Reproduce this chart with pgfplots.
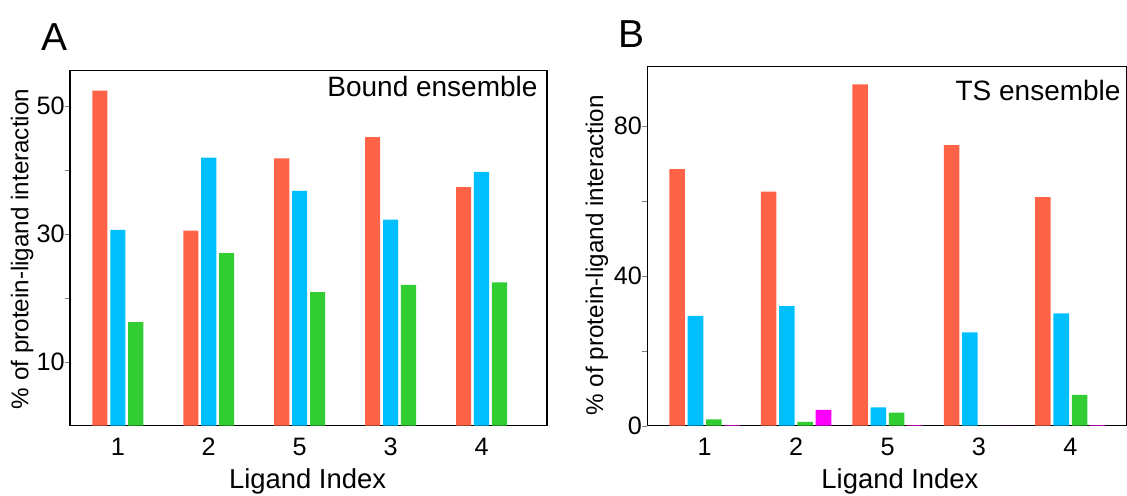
\documentclass[border=0pt]{standalone}
\usepackage{fontspec}
\setmainfont{Liberation Sans}
\usepackage{pgfplots}
\pgfplotsset{compat=1.18}
\definecolor{barred}{HTML}{FF6347}
\definecolor{barblue}{HTML}{00BFFF}
\definecolor{bargreen}{HTML}{32CD32}
\definecolor{barmag}{HTML}{FF00FF}

\pgfplotsset{
  panel/.style={
    scale only axis, clip=false,
    axis line style={line width=0.6pt},
    ymin=0,
    xtick={0,1,2,3,4}, xticklabels={1,2,5,3,4},
    xtick style={draw=none},
    tick align=outside, ytick pos=left,
    major tick length=2.5pt, minor tick length=2.5pt,
    /pgf/number format/assume math mode=true,
    tick label style={font=\fontsize{12.6}{14}\selectfont},
    yticklabel style={anchor=east, inner sep=0pt},
    xticklabel style={anchor=base, inner sep=0pt, yshift=-12.6pt},
    ylabel={\% of protein-ligand interaction},
    xlabel={Ligand Index},
    label style={inner sep=0pt},
    xlabel style={font=\fontsize{13.7}{15}\selectfont, anchor=base},
    ylabel style={font=\fontsize{12.1}{14}\selectfont, anchor=center},
  },
}

\begin{document}
\begin{tikzpicture}
\path[use as bounding box] (-35pt,-34.65pt) rectangle (528.5pt,212.85pt);

% panel A
\begin{axis}[panel,
  width=238.5pt, height=177.5pt,
  xmin=-0.526, xmax=4.72, ymax=55.5,
  ytick={10,30,50}, minor ytick={20,40},
  xlabel style={at={(axis description cs:0.498,-0.1766)}},
  ylabel style={at={(axis description cs:-0.1006,0.498)}},
]
\addplot[ybar, fill=barred, draw=none, bar width=0.166, bar shift=-0.197]
  coordinates {(0,52.4) (1,30.5) (2,41.8) (3,45.1) (4,37.3)};
\addplot[ybar, fill=barblue, draw=none, bar width=0.166, bar shift=0]
  coordinates {(0,30.6) (1,41.9) (2,36.7) (3,32.2) (4,39.7)};
\addplot[ybar, fill=bargreen, draw=none, bar width=0.166, bar shift=0.197]
  coordinates {(0,16.2) (1,27.0) (2,20.9) (3,22.0) (4,22.4)};
\node[anchor=base east, inner sep=0pt, font=\fontsize{14}{16}\selectfont]
  at (rel axis cs:0.981,0.927) {Bound ensemble};
\end{axis}

% panel B
\begin{axis}[panel, at={(288.65pt,0pt)},
  width=239.7pt, height=179.5pt,
  xmin=-0.627, xmax=4.616, ymax=95.8,
  ytick={0,40,80}, minor ytick={20,60},
  xlabel style={at={(axis description cs:0.527,-0.174)}},
  ylabel style={at={(axis description cs:-0.1053,0.475)}},
]
\addplot[ybar, fill=barred, draw=none, bar width=0.17, bar shift=-0.3]
  coordinates {(0,68.5) (1,62.5) (2,91.1) (3,74.9) (4,61.0)};
\addplot[ybar, fill=barblue, draw=none, bar width=0.17, bar shift=-0.1]
  coordinates {(0,29.3) (1,31.9) (2,4.9) (3,24.9) (4,30.0)};
\addplot[ybar, fill=bargreen, draw=none, bar width=0.17, bar shift=0.1]
  coordinates {(0,1.7) (1,1.0) (2,3.5) (3,0) (4,8.2)};
\addplot[ybar, fill=barmag, draw=none, bar width=0.17, bar shift=0.3]
  coordinates {(0,0.15) (1,4.2) (2,0.15) (3,0) (4,0.15)};
\node[anchor=base east, inner sep=0pt, font=\fontsize{14}{16}\selectfont]
  at (rel axis cs:0.988,0.905) {TS ensemble};
\end{axis}

\node[inner sep=0pt, font=\fontsize{19.5}{22}\selectfont] at (-7.5pt,194.35pt) {A};
\node[inner sep=0pt, font=\fontsize{19.5}{22}\selectfont] at (280.75pt,195.85pt) {B};
\end{tikzpicture}
\end{document}
